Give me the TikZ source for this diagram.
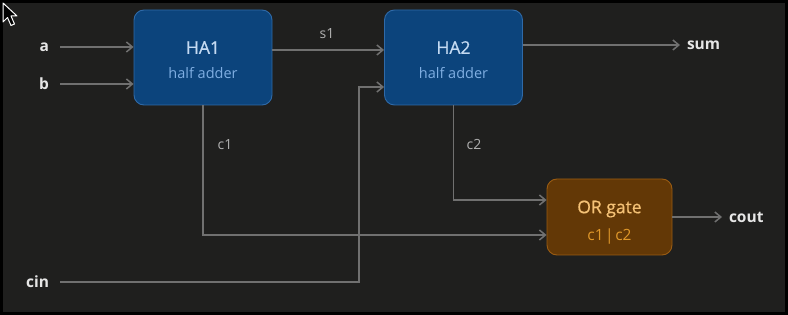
\documentclass[tikz,border=0pt]{standalone}
\usepackage{fontspec}
\setmainfont{Open Sans}
\newfontfamily\medfont[FakeBold=0.7]{Open Sans}
\usetikzlibrary{arrows.meta}
\definecolor{bg}{HTML}{1F1F1E}
\definecolor{wire}{HTML}{707070}
\definecolor{hafill}{HTML}{0C447C}
\definecolor{haline}{HTML}{2F6AA8}
\definecolor{hatitle}{HTML}{C4DAF2}
\definecolor{hasub}{HTML}{7FAEE2}
\definecolor{orfill}{HTML}{633806}
\definecolor{orline}{HTML}{9A5C12}
\definecolor{ortitle}{HTML}{F5C276}
\definecolor{orsub}{HTML}{E0982A}
\definecolor{iotext}{HTML}{E6E6E6}
\definecolor{wiretext}{HTML}{B0B0B0}
\tikzset{
  block/.style={draw, line width=0.9pt, rounded corners=10pt, inner sep=0pt},
  habox/.style={block, fill=hafill, draw=haline, minimum width=138pt, minimum height=95pt},
  orbox/.style={block, fill=orfill, draw=orline, minimum width=125pt, minimum height=76pt},
  title/.style={inner sep=0pt, font=\fontsize{17.5}{20}\medfont},
  sub/.style={inner sep=0pt, font=\fontsize{14.5}{17}\selectfont},
  inlabel/.style={anchor=east, inner sep=0pt, outer xsep=11pt, text=iotext, font=\fontsize{15.5}{18}\selectfont\bfseries},
  outlabel/.style={anchor=west, inner sep=0pt, outer xsep=7pt, text=iotext, font=\fontsize{15.5}{18}\selectfont\bfseries},
  wlabel/.style={inner sep=0pt, text=wiretext, font=\fontsize{14}{16}\selectfont},
  wire/.style={draw=wire, line width=1.5pt},
  arr/.style={wire, -{Straight Barb[length=6pt, width=10pt, line width=1.5pt]}},
}
\begin{document}
\begin{tikzpicture}[x=1pt, y=-1pt]
  \fill[bg] (0,0) rectangle (788,315);
  \useasboundingbox (0,0) rectangle (788,315);
  \draw[black, line width=3pt] (1.5,1.5) rectangle (786.5,313.5);
  % cursor
  \draw[white, fill=black, line width=1pt, line join=round]
    (3,3) -- (3,22) -- (7.5,17.5) -- (11,25.5) -- (14.5,24) -- (11,16) -- (17,16) -- cycle;
  % blocks
  \node[habox] (HA1) at (203,57.5) {};
  \node[title, text=hatitle] (HA1t) at (203,47.5) {HA1};
  \node[sub, text=hasub] (HA1s) at (203,73) {half adder};
  \node[habox] (HA2) at (453.5,57.5) {};
  \node[title, text=hatitle] (HA2t) at (453.5,47.5) {HA2};
  \node[sub, text=hasub] (HA2s) at (453.5,73) {half adder};
  \node[orbox] (OR) at (609.5,217) {};
  \node[title, text=ortitle] (ORt) at (609.5,209) {OR gate};
  \node[sub, text=orsub, font=\fontsize{15.5}{18}\selectfont] (ORs) at (609.5,236) {c1\hspace{1.5pt}|\hspace{1.5pt}c2};
  % io labels
  \node[inlabel] (a) at (60,47) {a};
  \node[inlabel] (b) at (60,84) {b};
  \node[inlabel] (cin) at (60,282) {cin};
  \node[outlabel] (sum) at (680,45) {sum};
  \node[outlabel] (cout) at (722,217) {cout};
  % wire labels
  \node[wlabel] (s1) at (327,34) {s1};
  \node[wlabel] (c1l) at (225,145) {c1};
  \node[wlabel] (c2l) at (474,145) {c2};
  % wires
  \draw[arr] (a.east) -- (a.east -| HA1.west);
  \draw[arr] (b.east) -- (b.east -| HA1.west);
  \draw[arr] ([yshift=7.5pt]HA1.east) -- ([yshift=7.5pt]HA2.west);
  \coordinate (cinup) at (359,87);
  \draw[arr] (cin.east) -| (cinup) -- (cinup -| HA2.west);
  \draw[arr] ([yshift=12.5pt]HA2.east) -- (sum.west);
  \draw[arr] (HA1.south) |- ([yshift=-18pt]OR.west);
  \draw[arr] (HA2.south) |- ([yshift=17pt]OR.west);
  \draw[arr] (OR.east) -- (cout.west);
\end{tikzpicture}
\end{document}
